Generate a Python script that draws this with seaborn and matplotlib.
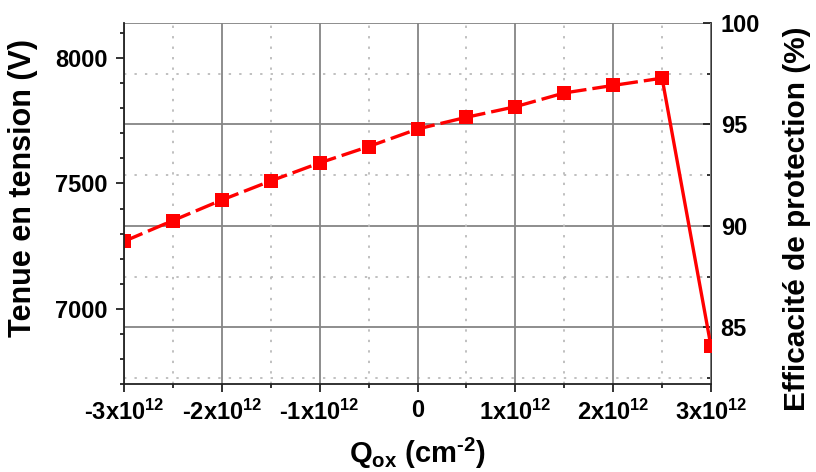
import pandas as pd
import seaborn as sns
import matplotlib.pyplot as plt
from matplotlib.ticker import FixedLocator, FixedFormatter, MultipleLocator

# Data
qox = [-3e12, -2.5e12, -2e12, -1.5e12, -1e12, -0.5e12, 0,
       0.5e12, 1e12, 1.5e12, 2e12, 2.5e12, 3e12]
tenue = [7269, 7352, 7434, 7510, 7582, 7647, 7717,
         7764, 7806, 7861, 7891, 7920, 6850]

x_ticks = [-3e12, -2e12, -1e12, 0, 1e12, 2e12, 3e12]
x_labels = ['0' if v == 0 else f'{int(v / 1e12)}x10$^{{12}}$' for v in x_ticks]

left_range = (6700, 8140)
right_range = (82.2, 100)

sns.set_style('ticks')
plt.rcParams['font.family'] = ['Liberation Sans', 'DejaVu Sans']
plt.rcParams['font.weight'] = 'bold'
plt.rcParams['mathtext.fontset'] = 'custom'
plt.rcParams['mathtext.rm'] = 'Liberation Sans:bold'
plt.rcParams['mathtext.it'] = 'Liberation Sans:bold'
plt.rcParams['mathtext.bf'] = 'Liberation Sans:bold'
plt.rcParams['axes.unicode_minus'] = False
for key in ('text.color', 'axes.labelcolor', 'xtick.color', 'ytick.color'):
    plt.rcParams[key] = 'black'

df = pd.DataFrame({'qox': qox, 'tenue': tenue})

fig = plt.figure(figsize=(8.16, 4.72), dpi=100)
ax = fig.add_axes([124 / 816, 88 / 472, 587 / 816, 361 / 472])
ax2 = ax.twinx()
ax.set_zorder(ax2.get_zorder() + 1)
ax.patch.set_visible(False)

# main curve (dashed) and the final drop (solid)
sns.lineplot(data=df.iloc[:-1], x='qox', y='tenue', ax=ax, color='#ff0000',
             marker='s', markersize=9.5, markeredgewidth=0, linewidth=2.4,
             linestyle=(0, (6, 1.8)))
sns.lineplot(data=df.iloc[-2:], x='qox', y='tenue', ax=ax, color='#ff0000',
             marker='s', markersize=9.5, markeredgewidth=0, linewidth=2.4)

ax.set_xlim(qox[0], qox[-1])
ax.set_ylim(*left_range)
ax2.set_ylim(*right_range)

ax.xaxis.set_major_locator(FixedLocator(x_ticks))
ax.xaxis.set_major_formatter(FixedFormatter(x_labels))
ax.xaxis.set_minor_locator(MultipleLocator(0.5e12))
ax.yaxis.set_major_locator(MultipleLocator(500))
ax.yaxis.set_minor_locator(MultipleLocator(100))
ax2.yaxis.set_major_locator(MultipleLocator(5))
ax2.yaxis.set_minor_locator(MultipleLocator(2.5))

# grids
ax.grid(which='major', axis='x', color='#858585', linewidth=1.3, linestyle='-')
ax.grid(which='minor', axis='x', color='#bbbbbb', linewidth=1.3, linestyle=(0, (1.3, 4.5)))
ax2.grid(which='major', axis='y', color='#858585', linewidth=1.3, linestyle='-')
ax2.grid(which='minor', axis='y', color='#bbbbbb', linewidth=1.3, linestyle=(0, (1.3, 4.5)))
ax.set_axisbelow(True)
ax2.set_axisbelow(True)

for a in (ax, ax2):
    a.spines['top'].set_visible(False)
    for s in a.spines.values():
        s.set_linewidth(1.3)
        s.set_color('#222222')
ax.spines['right'].set_visible(False)
ax2.spines['left'].set_visible(False)
ax2.spines['bottom'].set_visible(False)

ax.tick_params(axis='both', which='major', labelsize=17, length=6, width=1.3,
               direction='out', color='#222222', pad=5)
ax.tick_params(axis='both', which='minor', length=3, width=1.3,
               direction='out', color='#222222')
ax.tick_params(axis='y', which='major', pad=6)
ax2.tick_params(axis='y', which='major', labelsize=17, length=6, width=1.3,
                direction='in', color='#222222', pad=7)
ax2.tick_params(axis='y', which='minor', length=3, width=1.3,
                direction='in', color='#222222')

ax.set_xlabel('Q$_{ox}$ (cm$^{\u2010 2}$)', fontsize=21, fontweight='bold')
ax.set_ylabel('Tenue en tension (V)', fontsize=22, fontweight='bold')
ax2.set_ylabel('Efficacité de protection (%)', fontsize=21.5, fontweight='bold')

ax.xaxis.set_label_coords(0.5, -0.219)
ax.xaxis.label.set_verticalalignment('baseline')
ax.yaxis.set_label_coords(-0.172, 0.543)
ax.yaxis.label.set_verticalalignment('center')
ax2.yaxis.set_label_coords(1.1465, 0.458)
ax2.yaxis.label.set_verticalalignment('center')

fig.savefig('out.png', dpi=100)
